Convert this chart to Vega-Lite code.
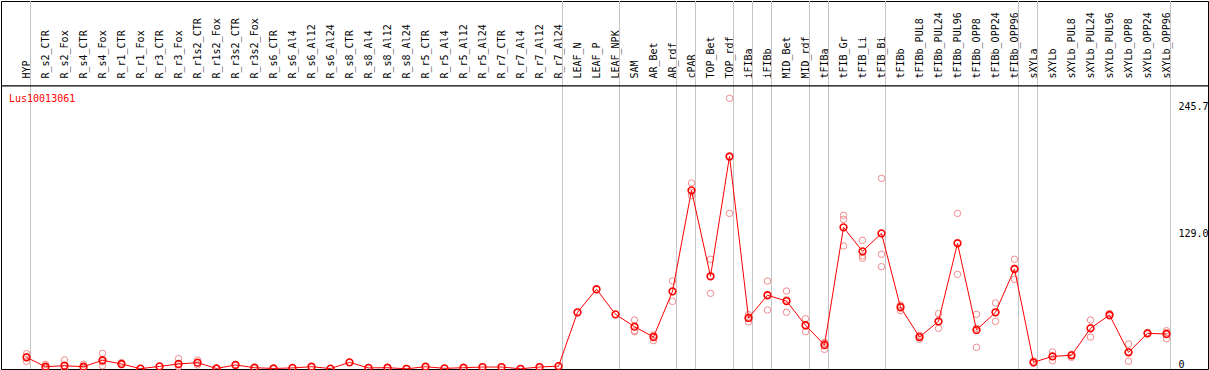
{
  "$schema": "https://vega.github.io/schema/vega-lite/v6.json",
  "width": 1207,
  "height": 368,
  "autosize": {"type": "none"},
  "padding": {"left": 1, "top": 1, "right": 1, "bottom": 1},
  "background": "white",
  "title": {
    "text": "Lus10013061",
    "anchor": "start",
    "frame": "group",
    "orient": "top",
    "offset": -111,
    "dx": 8,
    "baseline": "alphabetic",
    "color": "#ff0000",
    "font": "DejaVu Sans Mono",
    "fontSize": 10,
    "fontWeight": "normal"
  },
  "config": {
    "view": {"stroke": "black", "strokeWidth": 1},
    "font": "DejaVu Sans Mono"
  },
  "datasets": {
    "seps": [
      {"sample": "HYP"}, {"sample": "R_r7_Al24"}, {"sample": "LEAF_NPK"}, {"sample": "AR_rdf"},
      {"sample": "cPAR"}, {"sample": "TOP_rdf"}, {"sample": "iFIBa"}, {"sample": "iFIBb"},
      {"sample": "MID_rdf"}, {"sample": "tFIBa"}, {"sample": "tFIB_Bi"}, {"sample": "tFIBb_OPP96"},
      {"sample": "sXYLa"}, {"sample": "sXYLb_OPP96"}
    ],
    "hlines": [
      {"level": 259.5}
    ],
    "means": [
      {"sample": "HYP", "value": 10.7},
      {"sample": "R_s2_CTR", "value": 2.1},
      {"sample": "R_s2_Fox", "value": 3.0},
      {"sample": "R_s4_CTR", "value": 2.1},
      {"sample": "R_s4_Fox", "value": 8.0},
      {"sample": "R_r1_CTR", "value": 4.6},
      {"sample": "R_r1_Fox", "value": 0.3},
      {"sample": "R_r3_CTR", "value": 2.4},
      {"sample": "R_r3_Fox", "value": 4.6},
      {"sample": "R_r1s2_CTR", "value": 5.8},
      {"sample": "R_r1s2_Fox", "value": 0.5},
      {"sample": "R_r3s2_CTR", "value": 3.7},
      {"sample": "R_r3s2_Fox", "value": 1.2},
      {"sample": "R_s6_CTR", "value": 0.5},
      {"sample": "R_s6_Al4", "value": 1.0},
      {"sample": "R_s6_Al12", "value": 2.1},
      {"sample": "R_s6_Al24", "value": 0.4},
      {"sample": "R_s8_CTR", "value": 6.1},
      {"sample": "R_s8_Al4", "value": 1.0},
      {"sample": "R_s8_Al12", "value": 1.2},
      {"sample": "R_s8_Al24", "value": 0.2},
      {"sample": "R_r5_CTR", "value": 2.1},
      {"sample": "R_r5_Al4", "value": 0.6},
      {"sample": "R_r5_Al12", "value": 1.2},
      {"sample": "R_r5_Al24", "value": 1.8},
      {"sample": "R_r7_CTR", "value": 1.8},
      {"sample": "R_r7_Al4", "value": 0.2},
      {"sample": "R_r7_Al12", "value": 1.8},
      {"sample": "R_r7_Al24", "value": 2.6},
      {"sample": "LEAF_N", "value": 52.0},
      {"sample": "LEAF_P", "value": 73.1},
      {"sample": "LEAF_NPK", "value": 50.1},
      {"sample": "SAM", "value": 38.8},
      {"sample": "AR_Bet", "value": 29.3},
      {"sample": "AR_rdf", "value": 71.2},
      {"sample": "cPAR", "value": 163.8},
      {"sample": "TOP_Bet", "value": 85.0},
      {"sample": "TOP_rdf", "value": 195.0},
      {"sample": "iFIBa", "value": 46.8},
      {"sample": "iFIBb", "value": 67.6},
      {"sample": "MID_Bet", "value": 62.3},
      {"sample": "MID_rdf", "value": 40.1},
      {"sample": "tFIBa", "value": 22.0},
      {"sample": "tFIB_Gr", "value": 129.9},
      {"sample": "tFIB_Li", "value": 107.9},
      {"sample": "tFIB_Bi", "value": 124.4},
      {"sample": "tFIBb", "value": 56.6},
      {"sample": "tFIBb_PUL8", "value": 29.3},
      {"sample": "tFIBb_PUL24", "value": 43.7},
      {"sample": "tFIBb_PUL96", "value": 115.2},
      {"sample": "tFIBb_OPP8", "value": 35.8},
      {"sample": "tFIBb_OPP24", "value": 52.0},
      {"sample": "tFIBb_OPP96", "value": 91.7},
      {"sample": "sXYLa", "value": 6.1},
      {"sample": "sXYLb", "value": 11.6},
      {"sample": "sXYLb_PUL8", "value": 12.5},
      {"sample": "sXYLb_PUL24", "value": 37.3},
      {"sample": "sXYLb_PUL96", "value": 49.5},
      {"sample": "sXYLb_OPP8", "value": 15.3},
      {"sample": "sXYLb_OPP24", "value": 32.7},
      {"sample": "sXYLb_OPP96", "value": 32.1}
    ],
    "reps": [
      {"sample": "HYP", "value": 14.0}, {"sample": "HYP", "value": 11.5}, {"sample": "HYP", "value": 7.0},
      {"sample": "R_s2_CTR", "value": 4.3}, {"sample": "R_s2_CTR", "value": 1.5}, {"sample": "R_s2_CTR", "value": 0.5},
      {"sample": "R_s2_Fox", "value": 8.3}, {"sample": "R_s2_Fox", "value": 0.5}, {"sample": "R_s2_Fox", "value": 0.3},
      {"sample": "R_s4_CTR", "value": 4.3}, {"sample": "R_s4_CTR", "value": 1.5}, {"sample": "R_s4_CTR", "value": 0.5},
      {"sample": "R_s4_Fox", "value": 14.4}, {"sample": "R_s4_Fox", "value": 3.0}, {"sample": "R_s4_Fox", "value": 6.5},
      {"sample": "R_r1_CTR", "value": 5.8}, {"sample": "R_r1_CTR", "value": 4.0},
      {"sample": "R_r1_Fox", "value": 0.3},
      {"sample": "R_r3_CTR", "value": 2.4},
      {"sample": "R_r3_Fox", "value": 9.5}, {"sample": "R_r3_Fox", "value": 2.1}, {"sample": "R_r3_Fox", "value": 2.2},
      {"sample": "R_r1s2_CTR", "value": 8.3}, {"sample": "R_r1s2_CTR", "value": 3.7}, {"sample": "R_r1s2_CTR", "value": 5.4},
      {"sample": "R_r1s2_Fox", "value": 0.5},
      {"sample": "R_r3s2_CTR", "value": 3.7},
      {"sample": "R_r3s2_Fox", "value": 1.2},
      {"sample": "R_s6_CTR", "value": 0.5},
      {"sample": "R_s6_Al4", "value": 1.0},
      {"sample": "R_s6_Al12", "value": 2.1},
      {"sample": "R_s6_Al24", "value": 0.4},
      {"sample": "R_s8_CTR", "value": 6.1},
      {"sample": "R_s8_Al4", "value": 1.0},
      {"sample": "R_s8_Al12", "value": 1.2},
      {"sample": "R_s8_Al24", "value": 0.2},
      {"sample": "R_r5_CTR", "value": 2.1},
      {"sample": "R_r5_Al4", "value": 0.6},
      {"sample": "R_r5_Al12", "value": 1.2},
      {"sample": "R_r5_Al24", "value": 1.8},
      {"sample": "R_r7_CTR", "value": 1.8},
      {"sample": "R_r7_Al4", "value": 0.2},
      {"sample": "R_r7_Al12", "value": 1.8},
      {"sample": "R_r7_Al24", "value": 2.6},
      {"sample": "SAM", "value": 44.9}, {"sample": "SAM", "value": 35.1}, {"sample": "SAM", "value": 34.2},
      {"sample": "AR_Bet", "value": 31.2}, {"sample": "AR_Bet", "value": 26.0}, {"sample": "AR_Bet", "value": 30.5},
      {"sample": "AR_rdf", "value": 80.7}, {"sample": "AR_rdf", "value": 62.0}, {"sample": "AR_rdf", "value": 71.0},
      {"sample": "cPAR", "value": 170.5}, {"sample": "cPAR", "value": 158.9}, {"sample": "cPAR", "value": 162.0},
      {"sample": "TOP_Bet", "value": 100.6}, {"sample": "TOP_Bet", "value": 69.4}, {"sample": "TOP_Bet", "value": 85.0},
      {"sample": "TOP_rdf", "value": 248.2}, {"sample": "TOP_rdf", "value": 142.7}, {"sample": "TOP_rdf", "value": 194.0},
      {"sample": "iFIBa", "value": 49.8}, {"sample": "iFIBa", "value": 43.1}, {"sample": "iFIBa", "value": 47.5},
      {"sample": "iFIBb", "value": 80.7}, {"sample": "iFIBb", "value": 54.1}, {"sample": "iFIBb", "value": 68.0},
      {"sample": "MID_Bet", "value": 71.5}, {"sample": "MID_Bet", "value": 52.0}, {"sample": "MID_Bet", "value": 63.4},
      {"sample": "MID_rdf", "value": 46.1}, {"sample": "MID_rdf", "value": 34.2}, {"sample": "MID_rdf", "value": 40.0},
      {"sample": "tFIBa", "value": 24.4}, {"sample": "tFIBa", "value": 18.0}, {"sample": "tFIBa", "value": 23.6},
      {"sample": "tFIB_Gr", "value": 140.9}, {"sample": "tFIB_Gr", "value": 137.2}, {"sample": "tFIB_Gr", "value": 112.8},
      {"sample": "tFIB_Li", "value": 118.0}, {"sample": "tFIB_Li", "value": 103.6}, {"sample": "tFIB_Li", "value": 101.5},
      {"sample": "tFIB_Bi", "value": 174.8}, {"sample": "tFIB_Bi", "value": 105.2}, {"sample": "tFIB_Bi", "value": 93.8},
      {"sample": "tFIBb", "value": 58.7}, {"sample": "tFIBb", "value": 53.5}, {"sample": "tFIBb", "value": 57.6},
      {"sample": "tFIBb_PUL8", "value": 30.9}, {"sample": "tFIBb_PUL8", "value": 27.2}, {"sample": "tFIBb_PUL8", "value": 29.8},
      {"sample": "tFIBb_PUL24", "value": 50.7}, {"sample": "tFIBb_PUL24", "value": 37.3}, {"sample": "tFIBb_PUL24", "value": 43.1},
      {"sample": "tFIBb_PUL96", "value": 142.7}, {"sample": "tFIBb_PUL96", "value": 86.8}, {"sample": "tFIBb_PUL96", "value": 116.1},
      {"sample": "tFIBb_OPP8", "value": 50.1}, {"sample": "tFIBb_OPP8", "value": 19.9}, {"sample": "tFIBb_OPP8", "value": 37.4},
      {"sample": "tFIBb_OPP24", "value": 60.5}, {"sample": "tFIBb_OPP24", "value": 43.7}, {"sample": "tFIBb_OPP24", "value": 51.8},
      {"sample": "tFIBb_OPP96", "value": 100.6}, {"sample": "tFIBb_OPP96", "value": 82.2}, {"sample": "tFIBb_OPP96", "value": 92.3},
      {"sample": "sXYLa", "value": 7.3}, {"sample": "sXYLa", "value": 5.5},
      {"sample": "sXYLb", "value": 15.6}, {"sample": "sXYLb", "value": 7.6}, {"sample": "sXYLb", "value": 11.6},
      {"sample": "sXYLb_PUL8", "value": 10.7}, {"sample": "sXYLb_PUL8", "value": 13.4},
      {"sample": "sXYLb_PUL24", "value": 44.9}, {"sample": "sXYLb_PUL24", "value": 29.3}, {"sample": "sXYLb_PUL24", "value": 37.7},
      {"sample": "sXYLb_PUL96", "value": 51.0}, {"sample": "sXYLb_PUL96", "value": 48.7},
      {"sample": "sXYLb_OPP8", "value": 22.9}, {"sample": "sXYLb_OPP8", "value": 7.1}, {"sample": "sXYLb_OPP8", "value": 15.9},
      {"sample": "sXYLb_OPP24", "value": 33.5}, {"sample": "sXYLb_OPP24", "value": 32.3},
      {"sample": "sXYLb_OPP96", "value": 35.1}, {"sample": "sXYLb_OPP96", "value": 27.8}, {"sample": "sXYLb_OPP96", "value": 33.4}
    ]
  },
  "layer": [
    {
      "data": {"name": "seps"},
      "mark": {"type": "rule", "color": "#c4c4c4", "strokeWidth": 1, "xOffset": 4},
      "encoding": {
        "x": {
          "field": "sample",
          "type": "nominal",
          "title": null,
          "scale": {
            "type": "point",
            "range": [25.5, 1165.5],
            "padding": 0,
            "domain": ["HYP","R_s2_CTR","R_s2_Fox","R_s4_CTR","R_s4_Fox","R_r1_CTR","R_r1_Fox","R_r3_CTR","R_r3_Fox","R_r1s2_CTR","R_r1s2_Fox","R_r3s2_CTR","R_r3s2_Fox","R_s6_CTR","R_s6_Al4","R_s6_Al12","R_s6_Al24","R_s8_CTR","R_s8_Al4","R_s8_Al12","R_s8_Al24","R_r5_CTR","R_r5_Al4","R_r5_Al12","R_r5_Al24","R_r7_CTR","R_r7_Al4","R_r7_Al12","R_r7_Al24","LEAF_N","LEAF_P","LEAF_NPK","SAM","AR_Bet","AR_rdf","cPAR","TOP_Bet","TOP_rdf","iFIBa","iFIBb","MID_Bet","MID_rdf","tFIBa","tFIB_Gr","tFIB_Li","tFIB_Bi","tFIBb","tFIBb_PUL8","tFIBb_PUL24","tFIBb_PUL96","tFIBb_OPP8","tFIBb_OPP24","tFIBb_OPP96","sXYLa","sXYLb","sXYLb_PUL8","sXYLb_PUL24","sXYLb_PUL96","sXYLb_OPP8","sXYLb_OPP24","sXYLb_OPP96"]
          },
          "axis": {
            "orient": "top",
            "title": null,
            "domain": false,
            "ticks": false,
            "tickSize": 0,
            "grid": false,
            "labelAngle": 270,
            "labelAlign": "left",
            "labelBaseline": "middle",
            "labelPadding": -77,
            "labelFont": "DejaVu Sans Mono",
            "labelFontSize": 10,
            "labelColor": "black",
            "labelOverlap": false,
            "labelLimit": 300,
            "labelBound": false,
            "labelFlush": false
          }
        }
      }
    },
    {
      "mark": {"type": "rule", "color": "#c4c4c4", "strokeWidth": 1, "xOffset": -16},
      "encoding": {"x": {"datum": "HYP", "type": "nominal"}}
    },
    {
      "mark": {"type": "rule", "color": "#c4c4c4", "strokeWidth": 1},
      "encoding": {"y": {"datum": 129.0, "type": "quantitative"}}
    },
    {
      "data": {"name": "reps"},
      "mark": {"type": "point", "shape": "circle", "filled": false, "color": "#f08c8c", "strokeWidth": 1, "size": 42, "opacity": 1},
      "encoding": {
        "x": {"field": "sample", "type": "nominal"},
        "y": {"field": "value", "type": "quantitative"}
      }
    },
    {
      "data": {"name": "means"},
      "mark": {"type": "line", "color": "#ff0000", "strokeWidth": 1},
      "encoding": {
        "x": {"field": "sample", "type": "nominal"},
        "y": {
          "field": "value",
          "type": "quantitative",
          "title": null,
          "scale": {"domain": [0, 337.4], "nice": false, "zero": true},
          "axis": {
            "orient": "right",
            "title": null,
            "domain": false,
            "ticks": false,
            "tickSize": 0,
            "grid": false,
            "values": [0, 129.0, 245.7],
            "labelExpr": "datum.value === 0 ? '0' : format(datum.value, '.1f')",
            "labelAlign": "left",
            "labelBaseline": {"condition": {"test": "datum.value === 0", "value": "bottom"}, "value": "top"},
            "labelPadding": -30,
            "labelFont": "DejaVu Sans Mono",
            "labelFontSize": 10,
            "labelColor": "black",
            "labelOverlap": false,
            "labelBound": false,
            "labelFlush": false
          }
        }
      }
    },
    {
      "data": {"name": "means"},
      "mark": {"type": "point", "shape": "circle", "filled": false, "color": "#ff0000", "strokeWidth": 1.6, "size": 45, "opacity": 1},
      "encoding": {
        "x": {"field": "sample", "type": "nominal"},
        "y": {"field": "value", "type": "quantitative"}
      }
    },
    {
      "data": {"name": "hlines"},
      "mark": {"type": "rule", "color": "#000000", "strokeWidth": 1.2},
      "encoding": {"y": {"field": "level", "type": "quantitative"}}
    }
  ]
}
